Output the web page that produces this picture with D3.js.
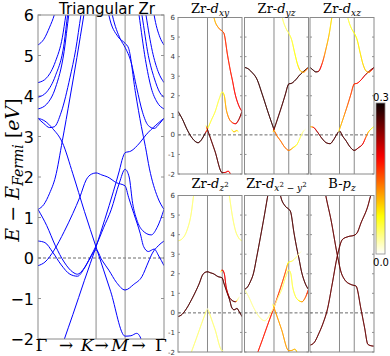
<!DOCTYPE html>
<html><head><meta charset="utf-8">
<script src="https://cdn.jsdelivr.net/npm/d3@7"></script>
<style>body{margin:0;background:#fff}svg{display:block}</style>
</head><body>
<svg id="c" width="390" height="356"></svg>
<script>
// ---------- data ----------
const kPoints = [0, 1, 1.5, 2.17];          // Γ, K, M, Γ
const yTicks = [-2, -1, 0, 1, 2, 3, 4, 5, 6];
const cbarTicks = [0.0, 0.3];

// main panel bands: [k, E]
const bandU1 = [[0,5.26],[0.1,5.4],[0.2,5.7],[0.28,6.0],[0.35,6.4]];
const bandU2 = [[0,4.33],[0.15,4.45],[0.3,4.85],[0.42,5.45],[0.48,6.0],[0.55,6.6]];
const bandU3 = [[0,3.97],[0.15,4.1],[0.3,4.5],[0.45,5.3],[0.51,6.0],[0.58,6.6]];
const bandU4 = [[0,3.68],[0.15,3.8],[0.3,4.2],[0.45,5.1],[0.53,6.0],[0.6,6.6]];
const bandU5 = [[0,3.45],[0.1,3.32],[0.2,3.22],[0.28,3.24],[0.4,3.6],[0.55,4.45],[0.65,5.15],[0.74,6.0],[0.8,6.5]];
const bandS1 = [[0,1.2],[0.1,1.32],[0.2,1.6],[0.3,2.0],[0.42,2.9],[0.55,3.95],[0.67,4.95],[0.79,6.0],[0.85,6.5]];
const bandBa = [[0,3.45],[0.12,3.38],[0.25,3.2],[0.42,2.85],[0.6,2.08],[0.8,1.15],[1.0,0.27],[1.25,-0.82],[1.5,-1.93],[1.6,-1.92],[1.7,-1.86],[1.76,-1.95],[1.82,-2.3]];
const bandBb = [[0.35,-2.45],[0.45,-2.02],[0.6,-1.4],[0.8,-0.55],[1.0,0.28],[1.15,0.95],[1.3,1.65],[1.4,2.15],[1.46,2.48],[1.5,2.6],[1.6,2.64],[1.75,2.84],[1.86,3.04],[2.03,3.28],[2.17,3.45]];
const bandBc = [[0,1.2],[0.15,0.8],[0.3,0.3],[0.45,-0.1],[0.6,-0.35],[0.68,-0.4],[0.78,-0.28],[0.9,0.02],[1.0,0.3],[1.13,0.75],[1.26,1.19],[1.4,1.85],[1.5,2.19],[1.57,2.0],[1.63,1.35],[1.7,0.95],[1.8,0.68],[1.95,0.57],[2.05,0.75],[2.17,1.2]];
const bandBd = [[0,0.42],[0.12,0.38],[0.25,0.15],[0.4,-0.17],[0.55,-0.4],[0.68,-0.45],[0.8,-0.25],[0.9,0.0],[1.0,0.2],[1.1,-0.05],[1.22,-0.3],[1.35,-0.6],[1.5,-0.79],[1.65,-0.65],[1.79,-0.46],[1.9,-0.1],[1.97,0.12],[2.07,0.3],[2.17,0.42]];
const bandBe = [[0,-0.19],[0.12,-0.1],[0.28,0.2],[0.45,0.65],[0.6,1.1],[0.72,1.5],[0.83,1.93],[0.92,2.07],[1.0,2.1],[1.1,2.05],[1.2,2.0],[1.35,1.86],[1.5,1.78],[1.56,1.5],[1.65,1.1],[1.76,0.61],[1.82,0.28],[1.9,0.16],[2.0,0.22],[2.08,0.05],[2.17,-0.19]];
const bandR1 = [[1.15,6.6],[1.22,6.0],[1.38,5.46],[1.5,5.3],[1.56,5.18],[1.68,4.07],[1.78,3.25],[1.85,2.75],[1.92,2.2],[2.06,1.5],[2.17,1.2]];
const bandR2 = [[1.2,6.6],[1.28,6.0],[1.42,5.4],[1.5,5.2],[1.6,4.85],[1.7,4.2],[1.8,3.6],[1.9,3.27],[2.0,3.2],[2.1,3.33],[2.17,3.45]];
const bandR3 = [[1.68,6.6],[1.74,6.0],[1.85,4.9],[1.95,4.2],[2.05,3.85],[2.17,3.68]];
const bandR4 = [[1.72,6.6],[1.79,6.0],[1.9,5.0],[2.0,4.45],[2.1,4.08],[2.17,3.97]];
const bandR5 = [[1.8,6.6],[1.86,6.0],[1.97,5.1],[2.07,4.6],[2.17,4.33]];
const bandR6 = [[1.95,6.5],[2.0,6.0],[2.1,5.45],[2.17,5.26]];
// boron p_z bands (orbital panel only)
const bandPz1 = [[0,-1.65],[0.15,-1.5],[0.3,-1.05],[0.45,-0.5],[0.59,0.18],[0.75,1.45],[0.93,2.93],[1.1,3.75],[1.3,3.9],[1.5,3.97],[1.6,4.1],[1.73,4.6],[1.96,5.45],[2.07,6.05],[2.17,6.4]];
const bandPz2 = [[0.45,6.7],[0.54,5.96],[0.71,4.77],[0.93,2.93],[1.05,2.1],[1.17,1.71],[1.39,1.45],[1.5,1.4],[1.56,1.37],[1.73,0.18],[1.85,-0.75],[1.96,-1.6],[2.07,-1.68],[2.17,-1.7]];

const mainBandNames = ["U1","U2","U3","U4","U5","S1","Ba","Bb","Bc","Bd","Be","R1","R2","R3","R4","R5","R6"];

// orbital weights per panel: [band, [[k, weight], ...]]
const wDxy = [
  ["Bc", [[0,0.28],[0.92,0.28],[1.02,0.06],[1.5,0.05],[1.6,0.11],[1.8,0.15],[1.95,0.2],[2.17,0.25]]],
  ["Ba", [[0.95,0],[1.0,0.26],[1.5,0.27],[1.6,0.2],[1.8,0.18]]],
  ["R1", [[1.2,0.1],[1.45,0.14],[1.6,0.17],[2.17,0.2]]],
  ["Be", [[1.8,0],[1.88,0.1],[2.0,0.1],[2.06,0]]]
];
const wDyz = [
  ["Ba", [[0,0.28],[0.98,0.28],[1.02,0]]],
  ["Bb", [[0.97,0],[1.0,0.27],[2.17,0.28]]],
  ["Bd", [[0.97,0],[1.0,0.14],[1.5,0.14],[1.75,0.07],[2.0,0.03],[2.1,0]]],
  ["R2", [[1.25,0.04],[1.5,0.05],[1.8,0.08],[2.0,0.12],[2.17,0.15]]]
];
const wDxz = [
  ["U5", [[0,0.28],[0.22,0.28],[0.35,0.2],[0.5,0.13],[0.7,0.09]]],
  ["Bd", [[0,0.06],[0.15,0.2],[0.4,0.27],[1.5,0.27],[1.8,0.2],[2.0,0.1],[2.17,0.05]]],
  ["Bb", [[0.97,0],[1.0,0.1],[1.3,0.15],[1.5,0.17],[1.8,0.2],[2.0,0.25],[2.17,0.28]]],
  ["R2", [[1.25,0.05],[1.6,0.08],[1.9,0.1],[2.05,0.15],[2.17,0.25]]]
];
const wDz2 = [
  ["Be", [[0,0.27],[2.17,0.27]]],
  ["Bc", [[1.45,0],[1.5,0.2],[1.6,0.2],[1.75,0.25],[1.95,0.27],[2.0,0.05],[2.1,0]]],
  ["U4", [[0,0.04],[0.7,0.04]]],
  ["R3", [[1.7,0.04],[2.17,0.04]]],
  ["Bb", [[0.4,0.04],[0.95,0.04],[1.0,0]]],
  ["Ba", [[1.0,0],[1.05,0.04],[1.5,0.04],[1.55,0]]]
];
const wDx2y2 = [
  ["S1", [[0,0.27],[0.9,0.27]]],
  ["R1", [[1.1,0.27],[2.17,0.27]]],
  ["Bb", [[0.4,0.18],[1.0,0.18],[1.4,0.15],[1.5,0.06],[1.8,0.03],[2.0,0]]],
  ["Bc", [[1.0,0.03],[1.5,0.05],[1.8,0.06],[1.95,0.12],[2.17,0.18]]],
  ["Ba", [[0.95,0],[1.0,0.12],[1.5,0.12],[1.8,0.1]]]
];
const wBpz = [
  ["Pz1", [[0,0.26],[2.17,0.26]]],
  ["Pz2", [[0,0.26],[2.17,0.26]]]
];

// panel titles: [text, style]
const titleDxy = [["Zr-",""],["d","i"],["xy","sub"]];
const titleDyz = [["Zr-",""],["d","i"],["yz","sub"]];
const titleDxz = [["Zr-",""],["d","i"],["xz","sub"]];
const titleDz2 = [["Zr-",""],["d","i"],["z","sub"],["2","sup"]];
const titleDx2y2 = [["Zr-",""],["d","i"],["x","sub"],["2","sup"],[" − ","subr"],["y","sub"],["2","sup"]];
const titleBpz = [["B-",""],["p","i"],["z","sub"]];

// ---------- build ----------
const bands = {U1:bandU1,U2:bandU2,U3:bandU3,U4:bandU4,U5:bandU5,S1:bandS1,Ba:bandBa,Bb:bandBb,Bc:bandBc,Bd:bandBd,Be:bandBe,R1:bandR1,R2:bandR2,R3:bandR3,R4:bandR4,R5:bandR5,R6:bandR6,Pz1:bandPz1,Pz2:bandPz2};

const svg = d3.select("#c");
const cmap = d3.scaleLinear().domain([0, 0.3*0.254, 0.3*0.635, 0.3])
  .range(["#ffffff","#ffff00","#ff0000","#0b0000"]).clamp(true);

let clipId = 0;
function frame(g, x, y, left, right, top, bottom, tickLen){
  g.append("line").attr("x1",left).attr("x2",right).attr("y1",y(0)).attr("y2",y(0))
    .attr("stroke","#444").attr("stroke-width",0.8).attr("stroke-dasharray","3,2");
  kPoints.slice(1,3).forEach(k=>{
    g.append("line").attr("x1",x(k)).attr("x2",x(k)).attr("y1",top).attr("y2",bottom)
      .attr("stroke","#8a8a8a").attr("stroke-width",1);
  });
  yTicks.forEach(t=>{
    g.append("line").attr("x1",left).attr("x2",left+tickLen).attr("y1",y(t)).attr("y2",y(t)).attr("stroke","#777").attr("stroke-width",0.8);
    g.append("line").attr("x1",right-tickLen).attr("x2",right).attr("y1",y(t)).attr("y2",y(t)).attr("stroke","#777").attr("stroke-width",0.8);
  });
}
function clipFor(g, left, top, w, h){
  const id = "clip"+(clipId++);
  svg.append("defs").append("clipPath").attr("id",id).append("rect")
    .attr("x",left).attr("y",top).attr("width",w).attr("height",h);
  return g.append("g").attr("clip-path","url(#"+id+")");
}

// ----- main panel -----
const mL=38, mR=164, mT=15, mB=339;
const xM = d3.scaleLinear().domain([kPoints[0], kPoints[3]]).range([mL, mR]);
const yM = d3.scaleLinear().domain([-2, 6]).range([mB, mT]);
const gMain = svg.append("g");
frame(gMain, xM, yM, mL, mR, mT, mB, 3);
const lineMain = d3.line().x(d=>xM(d[0])).y(d=>yM(d[1])).curve(d3.curveMonotoneX);
const gMainC = clipFor(gMain, mL, mT, mR-mL, mB-mT);
mainBandNames.forEach(n=>{
  gMainC.append("path").attr("d", lineMain(bands[n])).attr("fill","none")
    .attr("stroke","#0000ff").attr("stroke-width",1);
});
gMain.append("rect").attr("x",mL).attr("y",mT).attr("width",mR-mL).attr("height",mB-mT)
  .attr("fill","none").attr("stroke","#8a8a8a").attr("stroke-width",1);

gMain.selectAll("text.yt").data(yTicks).enter().append("text")
  .attr("x",34).attr("y",d=>yM(d)+6).attr("text-anchor","end")
  .attr("font-family","DejaVu Sans").attr("font-size",16).attr("fill","#000")
  .text(d=>d<0?"−"+Math.abs(d):String(d));

svg.append("text").attr("x",107).attr("y",13.5).attr("text-anchor","middle")
  .attr("font-family","DejaVu Sans").attr("font-size",15).text("Triangular Zr");

// y label
const yl = svg.append("text").attr("transform","translate(19,170) rotate(-90)")
  .attr("text-anchor","middle").attr("font-family","DejaVu Serif").attr("font-size",19);
yl.append("tspan").attr("font-style","italic").text("E");
yl.append("tspan").text(" − ");
yl.append("tspan").attr("font-style","italic").text("E");
yl.append("tspan").attr("font-style","italic").attr("font-size",14).attr("dy",4).text("Fermi");
yl.append("tspan").attr("dy",-4).text(" [");
yl.append("tspan").attr("font-style","italic").text("eV");
yl.append("tspan").text("]");

// x label pieces
const xlab = [["Γ",41.5,""],["→",66,""],["K",87,"italic"],["→",101.5,""],["M",120,"italic"],["→",138.5,""],["Γ",161,""]];
xlab.forEach(p=>{
  svg.append("text").attr("x",p[1]).attr("y",351).attr("text-anchor","middle")
    .attr("font-family","DejaVu Serif").attr("font-size",17).attr("font-style",p[2]||"normal").text(p[0]);
});

// ----- small panels -----
const colX = [178, 244.5, 310], rowY = [17.5, 195.5], pW = 64, pH = 156.5;
const titleBase = [13, 188];
const panels = [
  {t:titleDxy, w:wDxy, c:0, r:0},
  {t:titleDyz, w:wDyz, c:1, r:0},
  {t:titleDxz, w:wDxz, c:2, r:0},
  {t:titleDz2, w:wDz2, c:0, r:1},
  {t:titleDx2y2, w:wDx2y2, c:1, r:1},
  {t:titleBpz, w:wBpz, c:2, r:1}
];
panels.forEach(p=>{
  const left = colX[p.c], top = rowY[p.r], right = left+pW, bottom = top+pH;
  const x = d3.scaleLinear().domain([kPoints[0], kPoints[3]]).range([left, right]);
  const y = d3.scaleLinear().domain([-2, 6]).range([bottom, top]);
  const g = svg.append("g");
  frame(g, x, y, left, right, top, bottom, 2);
  const gc = clipFor(g, left, top, pW, pH);
  const line = d3.line().x(d=>x(d[0])).y(d=>y(d[1])).curve(d3.curveMonotoneX);
  p.w.forEach(([name, stops])=>{
    const tmp = gc.append("path").attr("d", line(bands[name])).attr("fill","none");
    const node = tmp.node(); const L = node.getTotalLength();
    const n = Math.max(2, Math.ceil(L/0.8));
    const pts = d3.range(n+1).map(i=>node.getPointAtLength(L*i/n));
    tmp.remove();
    const ws = d3.scaleLinear().domain(stops.map(s=>s[0])).range(stops.map(s=>s[1])).clamp(true);
    for(let i=0;i<n;i++){
      const a=pts[i], b=pts[i+1];
      const w = ws(x.invert((a.x+b.x)/2));
      if(w < 0.012) continue;
      gc.append("line").attr("x1",a.x).attr("y1",a.y).attr("x2",b.x).attr("y2",b.y)
        .attr("stroke", cmap(w)).attr("stroke-width",0.8).attr("stroke-linecap","round");
    }
  });
  g.append("rect").attr("x",left).attr("y",top).attr("width",pW).attr("height",pH)
    .attr("fill","none").attr("stroke","#8a8a8a").attr("stroke-width",1);
  if(p.c===0){
    g.selectAll("text.t").data(yTicks).enter().append("text")
      .attr("x",left-3).attr("y",d=>y(d)+2.5).attr("text-anchor","end")
      .attr("font-family","DejaVu Sans").attr("font-size",7).attr("fill","#333")
      .text(d=>String(d));
  }
  const tt = svg.append("text").attr("x",(left+right)/2).attr("y",titleBase[p.r]).attr("text-anchor","middle")
    .attr("font-family","DejaVu Serif").attr("font-size",13);
  let level = 0;
  p.t.forEach(([s, st])=>{
    let target = 0, size = 13, ital = false;
    if(st==="i"){ ital = true; }
    if(st==="sub"){ target = 3; size = 9; ital = true; }
    if(st==="subr"){ target = 3; size = 9; }
    if(st==="sup"){ target = -1; size = 7; }
    tt.append("tspan").attr("dy", target-level).attr("font-size",size)
      .attr("font-style", ital?"italic":"normal").attr("xml:space","preserve").text(s);
    level = target;
  });
});

// ----- colorbar -----
const cbL=376, cbT=103, cbW=9, cbH=151;
const cbScale = d3.scaleLinear().domain([0,0.3]).range([cbT+cbH, cbT]);
const grad = svg.append("defs").append("linearGradient").attr("id","cbg")
  .attr("x1",0).attr("y1",1).attr("x2",0).attr("y2",0);
d3.range(0, 1.0001, 0.05).forEach(f=>{
  grad.append("stop").attr("offset",f).attr("stop-color",cmap(f*0.3));
});
svg.append("rect").attr("x",cbL).attr("y",cbScale(0.3)).attr("width",cbW).attr("height",cbScale(0)-cbScale(0.3))
  .attr("fill","url(#cbg)").attr("stroke","#8a8a8a").attr("stroke-width",0.8);
svg.selectAll("text.cb").data(cbarTicks).enter().append("text")
  .attr("x",381).attr("y",d=>d===0?266:101).attr("text-anchor","middle")
  .attr("font-family","DejaVu Sans").attr("font-size",10).attr("fill","#000")
  .text(d=>d.toFixed(1));
</script>
</body></html>
